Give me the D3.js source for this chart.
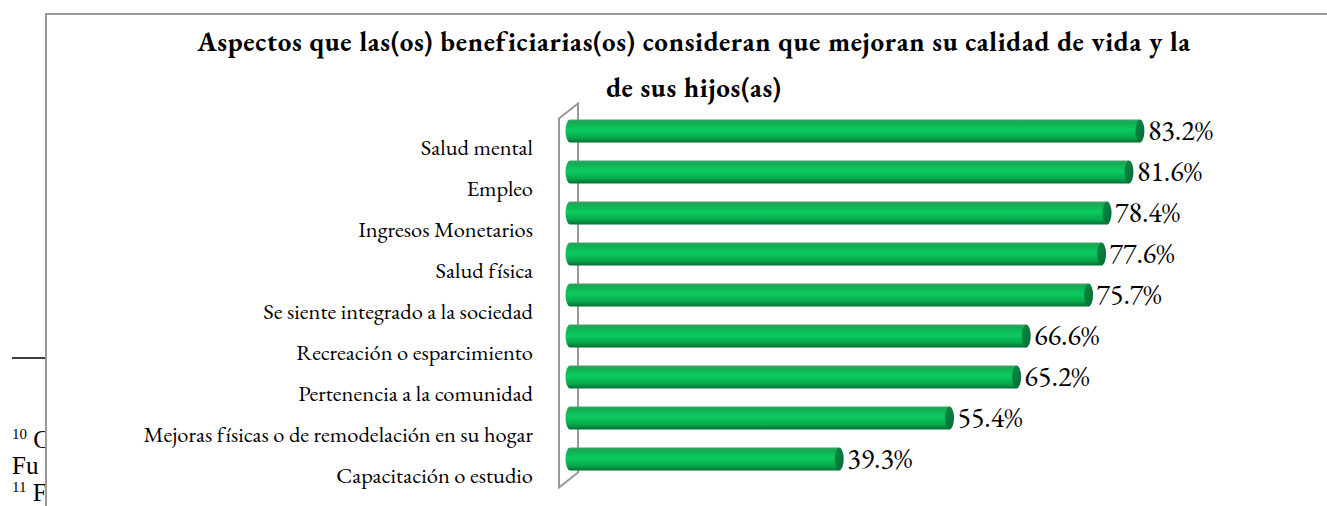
<!DOCTYPE html>
<meta charset="utf-8">
<body style="margin:0;background:#fff">
<script src="https://d3js.org/d3.v7.min.js"></script>
<script>
    const categories = ["Salud mental", "Empleo", "Ingresos Monetarios", "Salud física",
        "Se siente integrado a la sociedad", "Recreación o esparcimiento",
        "Pertenencia a la comunidad", "Mejoras físicas o de remodelación en su hogar",
        "Capacitación o estudio"];
    const values = [83.2, 81.6, 78.4, 77.6, 75.7, 66.6, 65.2, 55.4, 39.3];
    const titleLines = ["Aspectos que las(os) beneficiarias(os) consideran que mejoran su calidad de vida y la",
        "de sus hijos(as)"];

    const width = 1327, height = 506;
    const data = categories.map((c, i) => ({name: c, value: values[i]}));

    const svg = d3.select("body").append("svg")
        .attr("width", width)
        .attr("height", height)
        .attr("font-family", '"EB Garamond", "Liberation Serif", serif')
        .style("display", "block");

    // bits of the page text behind the chart box
    svg.append("clipPath").attr("id", "page")
        .append("rect").attr("x", 0).attr("y", 0).attr("width", 45).attr("height", height);
    const page = svg.append("g").attr("clip-path", "url(#page)").attr("font-size", 25)
        .attr("font-family", '"Liberation Serif", serif');
    page.append("line")
        .attr("x1", 12).attr("x2", 46).attr("y1", 358).attr("y2", 358)
        .attr("stroke", "#000").attr("stroke-width", 1.5);
    page.append("text").attr("x", 12).attr("y", 448)
        .html('<tspan font-size="15" dy="-9">10</tspan><tspan dy="9"> C</tspan>');
    page.append("text").attr("x", 12).attr("y", 474).text("Fu");
    page.append("text").attr("x", 12).attr("y", 501)
        .html('<tspan font-size="15" dy="-9">11</tspan><tspan dy="9"> F</tspan>');

    // chart area
    svg.append("rect")
        .attr("x", 46).attr("y", 14).attr("width", width).attr("height", height)
        .attr("fill", "#fff").attr("stroke", "#999").attr("stroke-width", 2);

    const x = d3.scaleLinear().domain([0, 100]).range([570, 1255]);
    const y = d3.scaleBand().domain(categories).range([110.5, 479.5])
        .paddingInner(0.44).paddingOuter(0.22);
    const depth = 17;

    const title = svg.append("text")
        .attr("font-size", 27).attr("font-weight", "bold").attr("text-anchor", "middle")
        .attr("letter-spacing", 0.7);
    titleLines.forEach((t, i) => {
        title.append("tspan").attr("x", 694).attr("y", 51 + i * 46).text(t);
    });

    // 3D axis wall
    const y0 = y.range()[0] - 7, y1 = y.range()[1] - 7;
    const back = x(0) + 8, front = x(0) - 11;
    svg.append("path")
        .attr("fill", "none").attr("stroke", "#999").attr("stroke-width", 2)
        .attr("d", `M${back},${y0} L${back},${y1} L${front},${y1 + 15} L${front},${y0 + 15} Z`);

    const defs = svg.append("defs");
    const grad = defs.append("linearGradient").attr("id", "cyl")
        .attr("x1", 0).attr("x2", 0).attr("y1", 0).attr("y2", 1);
    grad.append("stop").attr("offset", "0%").attr("stop-color", "#4a9f6c");
    grad.append("stop").attr("offset", "10%").attr("stop-color", "#14ab52");
    grad.append("stop").attr("offset", "45%").attr("stop-color", "#0bcb5e");
    grad.append("stop").attr("offset", "78%").attr("stop-color", "#08a94c");
    grad.append("stop").attr("offset", "100%").attr("stop-color", "#056f34");
    const capGrad = defs.append("linearGradient").attr("id", "cap")
        .attr("x1", 0).attr("x2", 1).attr("y1", 0).attr("y2", 1);
    capGrad.append("stop").attr("offset", "0%").attr("stop-color", "#0e8c47");
    capGrad.append("stop").attr("offset", "100%").attr("stop-color", "#006b33");

    const bars = svg.append("g").selectAll("g")
        .data(data)
        .join("g");

    const rx = 4.5;
    bars.append("path")
        .attr("fill", "url(#cyl)")
        .attr("d", d => {
            const top = y(d.name), h = y.bandwidth(), l = x(0), r = x(d.value);
            return `M${r},${top} L${l},${top} A${rx},${h / 2} 0 0 0 ${l},${top + h} L${r},${top + h} Z`;
        });
    bars.append("ellipse")
        .attr("cx", d => x(d.value))
        .attr("cy", d => y(d.name) + y.bandwidth() / 2)
        .attr("rx", rx)
        .attr("ry", y.bandwidth() / 2)
        .attr("fill", "url(#cap)");

    bars.append("text")
        .attr("font-size", 28)
        .attr("x", d => x(d.value) + 8)
        .attr("y", d => y(d.name) + y.bandwidth() / 2)
        .attr("dy", "0.33em")
        .text(d => d.value.toFixed(1) + "%");

    svg.append("g").selectAll("text")
        .data(data)
        .join("text")
        .attr("font-size", 22.5)
        .attr("text-anchor", "end")
        .attr("x", 533)
        .attr("y", d => y(d.name) + y.bandwidth() / 2 + depth)
        .attr("dy", "0.33em")
        .text(d => d.name);
</script>
</body>
